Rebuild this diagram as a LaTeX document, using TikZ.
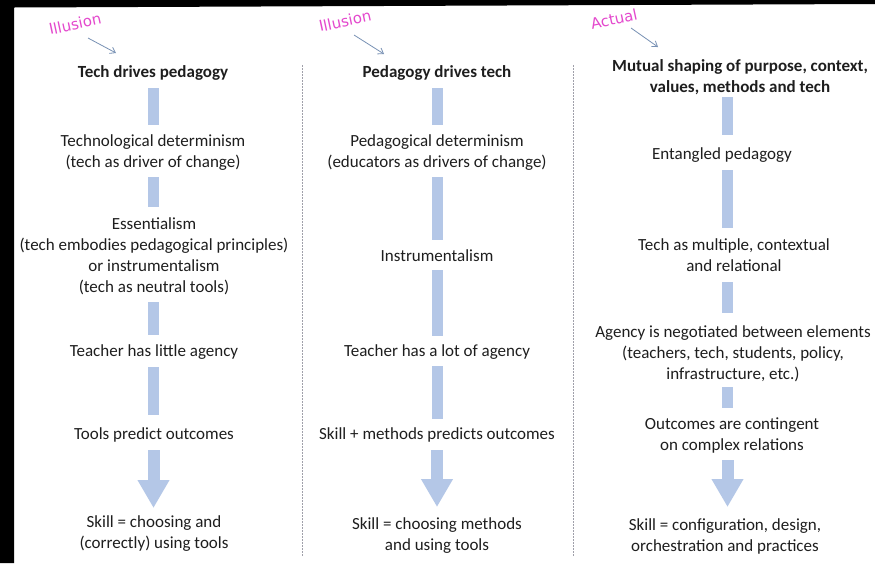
\documentclass[tikz,border=0pt]{standalone}
\usepackage{fontspec}
\setmainfont{Carlito}
\newfontfamily\handfont{DejaVu Sans}
\usetikzlibrary{arrows.meta}
\definecolor{barblue}{RGB}{180,199,231}
\definecolor{pinklab}{RGB}{228,72,205}
\definecolor{arrgray}{RGB}{120,145,180}
\definecolor{txt}{RGB}{30,30,30}
\definecolor{divgray}{RGB}{160,160,170}
\begin{document}
\begin{tikzpicture}[x=1pt,y=-1pt,
  lbl/.style={font=\fontsize{17}{21}\selectfont, text=txt, align=center, inner sep=0pt},
  hdr/.style={lbl, font=\fontsize{17}{21}\selectfont\bfseries},
  bar/.style={draw=barblue, line width=11pt},
  bigarrow/.style={draw=barblue, line width=12pt, -{Triangle[width=30pt,length=28pt]}},
  tag/.style={font=\handfont\fontsize{15}{18}\selectfont, text=pinklab, rotate=12, inner sep=0pt},
  pointer/.style={draw=arrgray, line width=0.8pt, -{Straight Barb[length=5pt,width=7pt]}},
  divider/.style={draw=divgray, line width=0.8pt, dash pattern=on 1.5pt off 1.5pt}]
\useasboundingbox (0,0) rectangle (875,563);
\fill[white] (0,0) rectangle (875,563);
\fill[black] (0,0) -- (875,0) -- (875,4) -- (14,7.5) -- (14,563) -- (0,563) -- cycle;

% dividers
\coordinate (d1t) at (302,65); \coordinate (d1b) at (302,557);
\coordinate (d2t) at (573,65); \coordinate (d2b) at (573,557);
\draw[divider] (d1t) -- (d1b);
\draw[divider] (d2t) -- (d2b);

% tags
\node[tag] (tag1) at (75,24) {Illusion};
\node[tag] (tag2) at (345,21) {Illusion};
\node[tag] (tag3) at (614,19) {Actual};
\coordinate (p1s) at (88,38);  \coordinate (p1e) at (116,53);
\coordinate (p2s) at (354,35); \coordinate (p2e) at (384,54);
\coordinate (p3s) at (631,28); \coordinate (p3e) at (658,47);
\draw[pointer] (p1s) -- (p1e);
\draw[pointer] (p2s) -- (p2e);
\draw[pointer] (p3s) -- (p3e);

% column 1
\node[hdr] (n11) at (153,73) {Tech drives pedagogy};
\node[lbl] (n12) at (153,152.5) {Technological determinism\\(tech as driver of change)};
\node[lbl] (n13) at (154,256) {Essentialism\\(tech embodies pedagogical principles)\\or instrumentalism\\(tech as neutral tools)};
\node[lbl] (n14) at (154,352) {Teacher has little agency};
\node[lbl] (n15) at (154,435) {Tools predict outcomes};
\node[lbl] (n16) at (154,534) {Skill = choosing and\\(correctly) using tools};
\coordinate (c1) at (153.5,0);
\draw[bar, shorten <=15pt, shorten >=27.5pt] (n11.center -| c1) -- (n12.center -| c1);
\draw[bar, shorten <=24.5pt, shorten >=49pt] (n12.center -| c1) -- (n13.center -| c1);
\draw[bar, shorten <=46pt, shorten >=17pt] (n13.center -| c1) -- (n14.center -| c1);
\draw[bar, shorten <=15pt, shorten >=20pt] (n14.center -| c1) -- (n15.center -| c1);
\draw[bigarrow, shorten <=15pt, shorten >=26pt] (n15.center -| c1) -- (n16.center -| c1);

% column 2
\node[hdr] (n21) at (437,73) {Pedagogy drives tech};
\node[lbl] (n22) at (437,152.5) {Pedagogical determinism\\(educators as drivers of change)};
\node[lbl] (n23) at (437,256) {Instrumentalism};
\node[lbl] (n24) at (437,352) {Teacher has a lot of agency};
\node[lbl] (n25) at (437,435) {Skill + methods predicts outcomes};
\node[lbl] (n26) at (437,535.5) {Skill = choosing methods\\and using tools};
\coordinate (c2) at (437,0);
\draw[bar, shorten <=15pt, shorten >=27.5pt] (n21.center -| c2) -- (n22.center -| c2);
\draw[bar, shorten <=24.5pt, shorten >=16pt] (n22.center -| c2) -- (n23.center -| c2);
\draw[bar, shorten <=14pt, shorten >=16pt] (n23.center -| c2) -- (n24.center -| c2);
\draw[bar, shorten <=14pt, shorten >=16pt] (n24.center -| c2) -- (n25.center -| c2);
\draw[bigarrow, shorten <=15pt, shorten >=28.5pt] (n25.center -| c2) -- (n26.center -| c2);

% column 3
\node[hdr] (n31) at (740,77) {Mutual shaping of purpose, context,\\values, methods and tech};
\node[lbl] (n32) at (722,155) {Entangled pedagogy};
\node[lbl] (n33) at (734,255.5) {Tech as multiple, contextual\\and relational};
\node[lbl] (n34) at (733,354) {Agency is negotiated between elements\\(teachers, tech, students, policy,\\infrastructure, etc.)};
\node[lbl] (n35) at (732,435.5) {Outcomes are contingent\\on complex relations};
\node[lbl] (n36) at (725,536) {Skill = configuration, design,\\orchestration and practices};
\coordinate (c3) at (727.5,0);
\draw[bar, shorten <=20pt, shorten >=20pt] (n31.center -| c3) -- (n32.center -| c3);
\draw[bar, shorten <=15pt, shorten >=27.5pt] (n32.center -| c3) -- (n33.center -| c3);
\draw[bar, shorten <=26.5pt, shorten >=41pt] (n33.center -| c3) -- (n34.center -| c3);
\draw[bar, shorten <=33pt, shorten >=27.5pt] (n34.center -| c3) -- (n35.center -| c3);
\draw[bigarrow, shorten <=24.5pt, shorten >=29pt] (n35.center -| c3) -- (n36.center -| c3);
\end{tikzpicture}
\end{document}
